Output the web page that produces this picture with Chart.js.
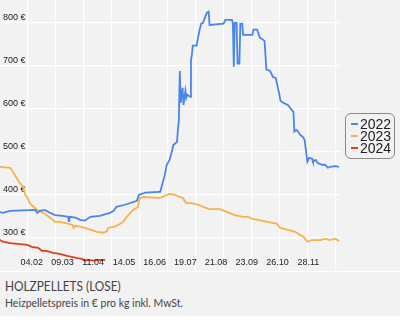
<!DOCTYPE html>
<html>
<head>
<meta charset="utf-8">
<script src="https://cdn.jsdelivr.net/npm/chart.js@4"></script>
<style>
  body { margin: 0; background: #fff; }
  #chartBox { position: relative; width: 400px; height: 271px; background: #f2f2f2; }
  #legend {
    position: absolute; left: 345px; top: 113px; width: 50px; height: 46px;
    border: 1px solid #888; border-radius: 6px; box-sizing: border-box;
    padding: 4px 0 0 5px; font: 14px "Liberation Sans", Arial, sans-serif; color: #222;
  }
  #legend .item { height: 12px; line-height: 12px; white-space: nowrap; }
  #legend .mark { display: inline-block; width: 7px; height: 2px; vertical-align: middle; margin-right: 2px; position: relative; top: -1px; }
  #sep { height: 1px; background: #fff; }
  #caption { position: relative; height: 44px; background: #f2f2f2; color: #444; font-family: Lato, "Open Sans", sans-serif; }
  #caption .t { position: absolute; left: 5px; top: 8px; font-size: 13px; line-height: 13px; white-space: nowrap; transform: scaleX(0.91); transform-origin: left; }
  #caption .s { position: absolute; left: 5px; top: 26px; font-size: 10.5px; line-height: 10.5px; white-space: nowrap; }
</style>
</head>
<body>
<div id="chartBox">
  <canvas id="pelletChart" width="400" height="271"></canvas>
  <div id="legend"></div>
</div>
<div id="sep"></div>
<div id="caption">
  <div class="t">HOLZPELLETS (LOSE)</div>
  <div class="s">Heizpelletspreis in € pro kg inkl. MwSt.</div>
</div>
<script>
// Series names and colours
const seriesNames = ['2022', '2023', '2024'];
const seriesColors = ['#4a86e8', '#f6b24b', '#d8431c'];

// Day of year (0 = 1 Jan) and price in EUR
const days2022 = [0, 3, 11, 38, 40, 43, 48, 54, 59, 67, 73, 74, 75, 81, 86, 91, 97, 107, 118, 122, 125, 134, 147, 149, 156, 170, 172, 174, 177, 179, 182, 185, 186, 190, 191, 192, 193, 194, 196, 197, 199, 200, 201, 204, 205, 206, 207, 211, 214, 216, 218, 220, 222, 224, 225, 240, 242, 249, 250, 251, 252, 254, 255, 257, 258, 260, 261, 271, 272, 276, 279, 281, 284, 286, 290, 293, 296, 300, 301, 304, 309, 313, 315, 316, 318, 320, 322, 325, 327, 330, 332, 335, 336, 339, 341, 346, 349, 352, 354, 360, 364];
const prices2022 = [360, 358, 363, 365, 358, 363, 365, 358, 353, 351, 349, 337, 349, 347, 342, 340, 349, 351, 358, 363, 372, 377, 386, 400, 405, 407, 407, 423, 447, 470, 481, 505, 516, 523, 551, 574, 688, 614, 649, 609, 642, 626, 633, 628, 714, 726, 747, 747, 781, 798, 800, 812, 823, 826, 795, 798, 807, 807, 798, 698, 800, 800, 705, 705, 798, 798, 772, 772, 784, 784, 765, 763, 758, 691, 688, 674, 672, 633, 619, 614, 609, 598, 593, 547, 551, 547, 540, 535, 528, 477, 486, 484, 477, 481, 474, 470, 470, 463, 465, 467, 465];

const days2023 = [0, 11, 14, 19, 21, 25, 27, 29, 32, 35, 40, 48, 54, 59, 64, 73, 78, 79, 81, 86, 91, 97, 104, 111, 115, 116, 123, 129, 132, 136, 143, 148, 150, 154, 169, 172, 177, 182, 188, 193, 196, 200, 206, 213, 218, 225, 236, 244, 252, 261, 266, 271, 277, 287, 297, 301, 308, 317, 322, 326, 330, 335, 344, 349, 354, 360, 364];
const prices2023 = [465, 463, 453, 435, 428, 419, 400, 395, 381, 374, 365, 356, 347, 337, 337, 333, 330, 323, 328, 326, 323, 319, 314, 312, 316, 323, 326, 333, 337, 349, 365, 372, 393, 395, 393, 393, 398, 402, 400, 395, 393, 381, 381, 377, 372, 367, 367, 360, 353, 349, 349, 344, 342, 337, 333, 323, 319, 314, 307, 302, 291, 295, 295, 298, 295, 298, 293];

const days2024 = [0, 3, 11, 19, 29, 34, 41, 45, 50, 57, 64, 72, 77, 83, 88, 91, 94, 100, 107, 113];
const prices2024 = [295, 291, 288, 286, 284, 279, 277, 270, 270, 265, 263, 258, 256, 253, 251, 247, 249, 247, 249, 249];

// X tick labels (dd.mm) and their day of year
const xTickLabels = ['04.02', '09.03', '11.04', '14.05', '16.06', '19.07', '21.08', '23.09', '26.10', '28.11'];
const xTickDays = [34, 67, 100, 133, 166, 199, 232, 265, 298, 331];
// Vertical grid every 30 days, horizontal grid at the y ticks
const xGridDays = [30, 60, 90, 120, 150, 180, 210, 240, 270, 300, 330, 360];
const yTicks = [300, 400, 500, 600, 700, 800];

const seriesDays = [days2022, days2023, days2024];
const seriesPrices = [prices2022, prices2023, prices2024];

const datasets = seriesNames.map((name, i) => ({
  label: name,
  data: seriesDays[i].map((d, j) => ({ x: d, y: seriesPrices[i][j] })),
  borderColor: seriesColors[i],
  backgroundColor: seriesColors[i],
  borderWidth: 1.8,
  pointRadius: 0,
  tension: 0
}));

const tickFont = { family: '"Liberation Sans", Arial, sans-serif', size: 9 };

// x labels sit inside the plot, over the bottom strip
const insideXLabels = {
  id: 'insideXLabels',
  afterDatasetsDraw(chart) {
    const { ctx, chartArea, scales } = chart;
    ctx.save();
    ctx.font = '9px "Liberation Sans", Arial, sans-serif';
    ctx.fillStyle = '#222';
    ctx.textAlign = 'center';
    ctx.textBaseline = 'middle';
    xTickLabels.forEach((lbl, i) => {
      ctx.fillText(lbl, scales.x.getPixelForValue(xTickDays[i]), chartArea.bottom - 8);
    });
    ctx.restore();
  }
};

const noPad = (axis) => {
  axis.paddingTop = 0; axis.paddingBottom = 0;
  axis.paddingLeft = 0; axis.paddingRight = 0;
};

new Chart(document.getElementById('pelletChart'), {
  type: 'line',
  data: { datasets },
  options: {
    responsive: false,
    animation: false,
    layout: { padding: { left: 0, right: 60, top: 0, bottom: 0 } },
    plugins: { legend: { display: false }, tooltip: { enabled: false } },
    scales: {
      x: {
        type: 'linear', min: 0, max: 365,
        border: { display: false },
        grid: { color: '#ffffff', lineWidth: 1.2, drawTicks: false },
        ticks: { display: false },
        afterBuildTicks: (axis) => {
          axis.ticks = xGridDays.map(v => ({ value: v }));
        },
        afterFit: (axis) => { axis.height = 0; noPad(axis); }
      },
      y: {
        type: 'linear', min: 223, max: 853,
        border: { display: false },
        grid: { color: '#ffffff', lineWidth: 1.2, drawTicks: false },
        ticks: {
          mirror: true, padding: 3, labelOffset: -5, font: tickFont, color: '#222',
          callback: (v) => v + ' €'
        },
        afterBuildTicks: (axis) => {
          axis.ticks = yTicks.map(v => ({ value: v }));
        },
        afterFit: (axis) => { axis.width = 0; noPad(axis); }
      }
    }
  },
  plugins: [insideXLabels]
});

// Legend box
const legend = document.getElementById('legend');
seriesNames.forEach((name, i) => {
  const item = document.createElement('div');
  item.className = 'item';
  item.innerHTML = '<span class="mark" style="background:' + seriesColors[i] + '"></span>' + name;
  legend.appendChild(item);
});
</script>
</body>
</html>
